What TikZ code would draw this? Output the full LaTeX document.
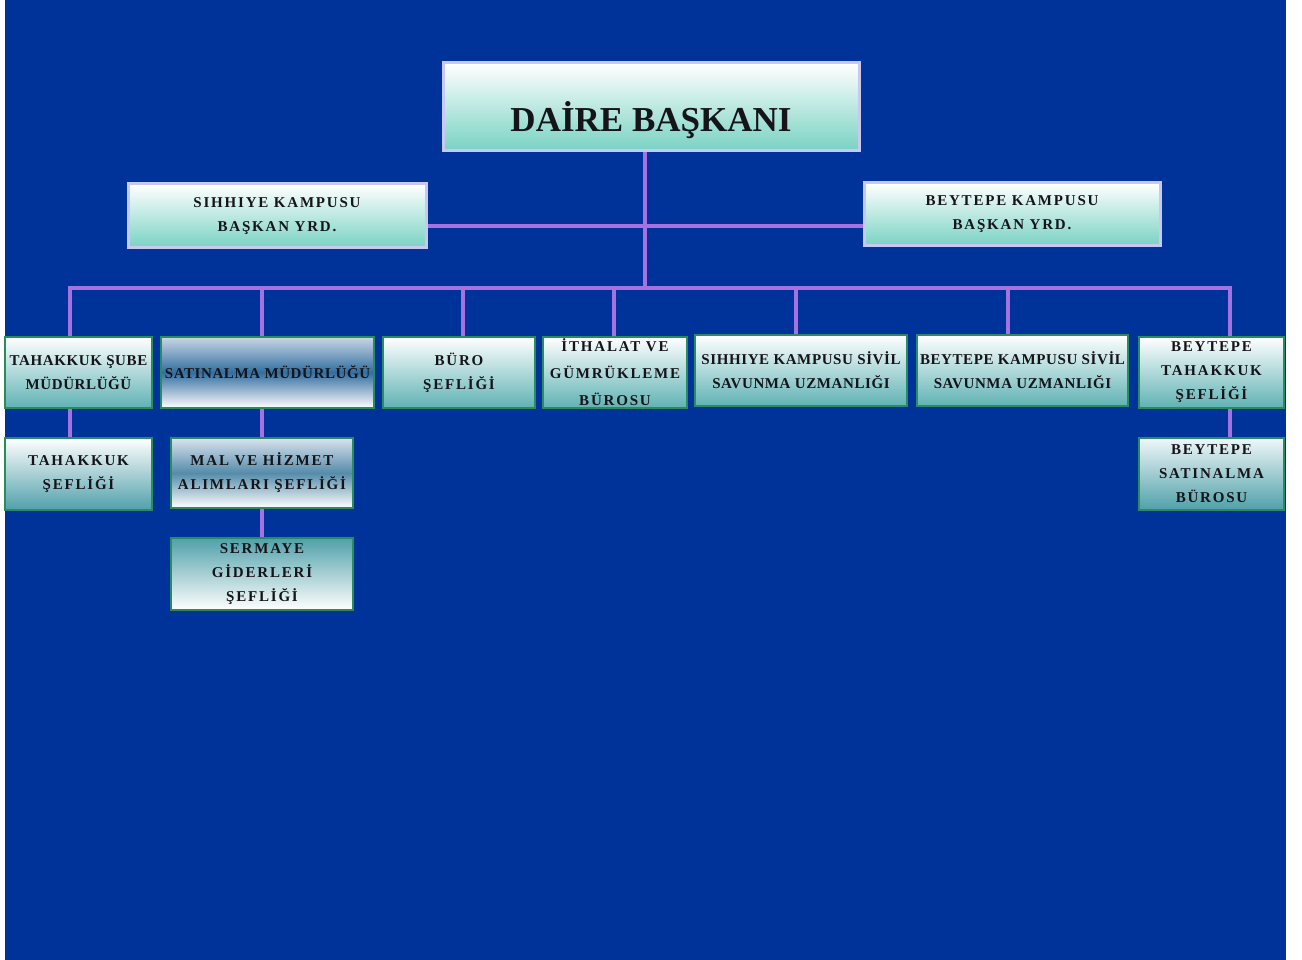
\documentclass[tikz,border=0pt]{standalone}
\usepackage{fontspec}
\setmainfont{Liberation Serif}
\newfontfamily\bxf[LetterSpace=4]{Liberation Serif}
\newfontfamily\bxs[LetterSpace=12]{Liberation Serif}
\definecolor{bgblue}{RGB}{0,51,153}
\definecolor{linep}{RGB}{165,115,225}
\definecolor{boxgreen}{RGB}{40,140,95}
\definecolor{lav}{RGB}{200,200,245}
\definecolor{aqua}{RGB}{120,210,195}
\definecolor{tealb}{RGB}{95,178,180}
\definecolor{tealc}{RGB}{80,160,170}
\definecolor{steel}{RGB}{50,110,160}
\definecolor{steell}{RGB}{200,215,230}
\definecolor{steelm}{RGB}{85,140,170}
\definecolor{txt}{RGB}{20,20,25}
\tikzset{
  conn/.style={draw=linep, line width=4pt},
  headbox/.style={rectangle, draw=lav, line width=3pt, inner sep=0pt, align=center, text=txt,
    top color=white, bottom color=aqua},
  unitbox/.style={rectangle, draw=boxgreen, line width=2.5pt, inner sep=0pt, align=center, text=txt,
    top color=white, bottom color=tealb, font=\bxf\bfseries\fontsize{15}{24}\selectfont},
  wide/.style={font=\bxs\bfseries\fontsize{15}{24}\selectfont},
}
\begin{document}
\begin{tikzpicture}[x=1pt,y=-1pt]
\useasboundingbox (0,0) rectangle (1302,960);
\fill[white] (0,0) rectangle (1302,960);
\fill[bgblue] (5,0) rectangle (1286,960);

% coordinates of the connector network
\coordinate (hub) at (645,226);
\coordinate (trunk) at (645,288);
\coordinate (t1) at (70,288);
\coordinate (t2) at (262,288);
\coordinate (t3) at (463,288);
\coordinate (t4) at (614,288);
\coordinate (t5) at (796,288);
\coordinate (t6) at (1008,288);
\coordinate (t7) at (1230,288);

% head boxes
\node[headbox, minimum width=416, minimum height=88, font=\bfseries\fontsize{35}{40}\selectfont] (top) at (651,107) {\raisebox{-25pt}[0pt][0pt]{DAİRE BAŞKANI}};
\node[headbox, minimum width=298, minimum height=64, font=\bxs\bfseries\fontsize{15}{24}\selectfont] (sih) at (277,216) {SIHHIYE KAMPUSU\\BAŞKAN YRD.};
\node[headbox, minimum width=296, minimum height=63, font=\bxs\bfseries\fontsize{15}{24}\selectfont] (bey) at (1012,214.5) {BEYTEPE KAMPUSU\\BAŞKAN YRD.};

% first row
\node[unitbox, minimum width=147, minimum height=71] (a1) at (78.5,372.5) {TAHAKKUK ŞUBE\\MÜDÜRLÜĞÜ};
\node[unitbox, minimum width=213, minimum height=71, top color=steell, bottom color=white, middle color=steel] (a2) at (267.5,372.5) {SATINALMA MÜDÜRLÜĞÜ};
\node[unitbox, wide, minimum width=152, minimum height=71] (a3) at (459,372.5) {BÜRO\\ŞEFLİĞİ};
\node[unitbox, wide, minimum width=144, minimum height=71, font=\bxs\bfseries\fontsize{15}{27}\selectfont] (a4) at (615,372.5) {İTHALAT VE\\GÜMRÜKLEME\\BÜROSU};
\node[unitbox, minimum width=212, minimum height=71] (a5) at (801,370.5) {SIHHIYE KAMPUSU SİVİL\\SAVUNMA UZMANLIĞI};
\node[unitbox, minimum width=211, minimum height=71] (a6) at (1022.5,370.5) {BEYTEPE KAMPUSU SİVİL\\SAVUNMA UZMANLIĞI};
\node[unitbox, wide, minimum width=145, minimum height=71] (a7) at (1211.5,372.5) {BEYTEPE\\TAHAKKUK\\ŞEFLİĞİ};

% second row
\node[unitbox, wide, minimum width=147, minimum height=72, bottom color=tealc] (b1) at (78.5,474) {TAHAKKUK\\ŞEFLİĞİ};
\node[unitbox, wide, minimum width=182, minimum height=70, top color=steell!70!white, bottom color=white, middle color=steelm] (b2) at (262,473) {MAL VE HİZMET\\ALIMLARI ŞEFLİĞİ};
\node[unitbox, wide, minimum width=145, minimum height=72, top color=white!90!tealb, bottom color=tealc] (b3) at (1211.5,474) {BEYTEPE\\SATINALMA\\BÜROSU};

% third row
\node[unitbox, wide, minimum width=182, minimum height=72, top color=tealc, bottom color=white] (c1) at (262,574) {SERMAYE\\GİDERLERİ\\ŞEFLİĞİ};

% connectors
\draw[conn] (top.south -| trunk) -- (trunk);
\draw[conn] (sih.east |- hub) -- (bey.west |- hub);
\draw[conn, line cap=rect] (t1) -- (t7);
\draw[conn] (t1) -- (a1.north -| t1);
\draw[conn] (t2) -- (a2.north -| t2);
\draw[conn] (t3) -- (a3.north -| t3);
\draw[conn] (t4) -- (a4.north -| t4);
\draw[conn] (t5) -- (a5.north -| t5);
\draw[conn] (t6) -- (a6.north -| t6);
\draw[conn] (t7) -- (a7.north -| t7);
\draw[conn] (a1.south -| t1) -- (b1.north -| t1);
\draw[conn] (a2.south -| t2) -- (b2.north -| t2);
\draw[conn] (b2.south -| t2) -- (c1.north -| t2);
\draw[conn] (a7.south -| t7) -- (b3.north -| t7);
\end{tikzpicture}
\end{document}
